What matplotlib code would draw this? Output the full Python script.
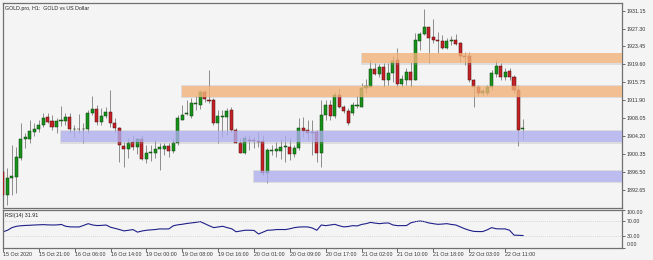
import matplotlib
matplotlib.use('Agg')
import matplotlib.pyplot as plt
from matplotlib.patches import Rectangle
import numpy as np

# Chart data ###################################################
# GOLD.pro H1 bars, oldest first
bar_open = [1896.5, 1891.5, 1895.2, 1895.4, 1899.4, 1903.6, 1903.5, 1905.0, 1905.6, 1906.6,
            1908.2, 1907.4, 1906.2, 1907.4, 1907.5, 1908.2, 1905.6, 1905.7, 1905.6, 1905.6,
            1909.2, 1909.9, 1907.3, 1908.4, 1909.3, 1906.9, 1905.85, 1902.0, 1901.3, 1902.9,
            1901.9, 1903.5, 1899.2, 1900.5, 1900.5, 1901.5, 1901.3, 1902.0, 1901.0, 1902.75,
            1907.7, 1908.95, 1908.5, 1911.1, 1910.9, 1913.7, 1912.0, 1911.9, 1906.9, 1908.2,
            1908.2, 1909.8, 1905.5, 1902.75, 1900.6, 1903.4, 1903.3, 1903.2, 1903.2, 1896.3,
            1901.0, 1900.9, 1901.0, 1901.8, 1901.8, 1900.35, 1901.55, 1906.0, 1905.5, 1905.0,
            1905.1, 1900.6, 1908.7, 1910.9, 1908.5, 1913.0, 1910.35, 1909.6, 1909.2, 1910.6,
            1910.5, 1914.45, 1914.8, 1918.55, 1917.55, 1918.95, 1916.25, 1917.7, 1920.65, 1915.4,
            1916.3, 1918.05, 1916.25, 1924.7, 1926.1, 1927.55, 1925.4, 1924.85, 1924.55, 1923.05,
            1924.55, 1924.8, 1924.15, 1921.4, 1921.3, 1916.25, 1914.7, 1913.5, 1913.5, 1914.7,
            1917.5, 1919.3, 1916.8, 1918.1, 1916.8, 1914.1, 1905.65]
bar_high = [1897.5, 1897.25, 1902.3, 1901.9, 1906.9, 1904.8, 1907.6, 1907.1, 1907.6, 1909.1,
            1909.1, 1908.7, 1908.0, 1910.6, 1909.2, 1909.2, 1906.6, 1908.9, 1907.1, 1909.8,
            1912.7, 1910.9, 1910.2, 1910.5, 1914.0, 1908.0, 1906.2, 1902.95, 1903.7, 1904.4,
            1903.7, 1904.4, 1902.3, 1902.3, 1903.3, 1902.6, 1902.6, 1902.6, 1903.7, 1908.7,
            1910.9, 1911.9, 1912.3, 1912.7, 1914.2, 1914.2, 1918.5, 1912.3, 1909.8, 1909.8,
            1910.15, 1910.5, 1905.85, 1903.7, 1904.4, 1904.4, 1903.9, 1905.1, 1904.4, 1901.55,
            1902.3, 1903.0, 1903.5, 1904.4, 1903.7, 1902.3, 1908.0, 1908.2, 1907.7, 1907.7,
            1905.5, 1911.9, 1911.9, 1911.9, 1913.7, 1914.45, 1910.9, 1910.2, 1911.6, 1912.7,
            1915.55, 1916.5, 1920.55, 1919.85, 1919.7, 1919.85, 1919.85, 1921.3, 1923.1, 1917.3,
            1918.8, 1920.2, 1926.3, 1926.6, 1931.45, 1927.7, 1929.3, 1926.5, 1925.9, 1925.2,
            1925.65, 1926.2, 1924.5, 1922.35, 1922.35, 1916.4, 1915.2, 1914.25, 1915.2, 1918.4,
            1920.55, 1919.85, 1918.8, 1918.8, 1917.3, 1915.2, 1907.8]
bar_low = [1890.5, 1889.4, 1891.5, 1891.9, 1899.0, 1901.6, 1902.6, 1904.2, 1905.1, 1906.2,
           1906.9, 1905.4, 1904.8, 1906.3, 1906.6, 1904.8, 1903.9, 1904.8, 1902.8, 1904.8,
           1908.7, 1906.6, 1906.6, 1908.0, 1906.2, 1905.1, 1898.7, 1897.5, 1899.4, 1901.2,
           1900.3, 1899.0, 1898.3, 1898.8, 1899.4, 1896.9, 1900.1, 1899.75, 1900.5, 1902.3,
           1907.7, 1908.7, 1908.0, 1909.8, 1910.0, 1911.5, 1911.2, 1906.6, 1902.75, 1904.05,
           1904.4, 1905.1, 1902.6, 1900.5, 1900.3, 1901.2, 1901.6, 1901.8, 1895.8, 1894.15,
           1900.1, 1899.75, 1899.2, 1898.7, 1899.0, 1899.75, 1901.2, 1904.0, 1903.35, 1900.1,
           1898.7, 1897.6, 1907.7, 1907.65, 1908.0, 1910.15, 1909.1, 1906.6, 1908.7, 1910.2,
           1910.5, 1913.5, 1914.8, 1917.3, 1916.95, 1914.8, 1915.2, 1915.9, 1914.8, 1914.8,
           1915.2, 1914.8, 1916.25, 1922.7, 1925.9, 1919.95, 1924.15, 1922.1, 1922.85, 1922.85,
           1923.75, 1923.75, 1920.2, 1919.5, 1915.9, 1910.5, 1912.7, 1913.0, 1913.0, 1914.1,
           1916.8, 1916.25, 1916.25, 1916.25, 1913.4, 1902.05, 1903.5]
bar_close = [1891.5, 1895.1, 1895.6, 1899.7, 1903.5, 1903.9, 1905.2, 1905.7, 1906.6, 1908.0,
             1907.2, 1906.2, 1907.4, 1907.6, 1908.2, 1905.6, 1905.7, 1905.6, 1905.8, 1909.1,
             1909.9, 1907.3, 1908.4, 1909.3, 1906.9, 1905.85, 1902.3, 1901.3, 1902.75, 1901.9,
             1903.5, 1899.2, 1900.5, 1900.85, 1901.35, 1901.9, 1902.0, 1901.0, 1902.65, 1908.0,
             1908.7, 1909.2, 1911.35, 1911.35, 1913.7, 1912.1, 1911.8, 1907.0, 1908.5, 1908.3,
             1909.65, 1905.5, 1902.75, 1900.6, 1903.7, 1903.2, 1903.2, 1903.0, 1896.3, 1901.2,
             1901.1, 1901.3, 1901.8, 1901.9, 1900.35, 1901.55, 1905.85, 1905.35, 1904.9, 1904.9,
             1900.6, 1908.7, 1910.9, 1908.5, 1913.0, 1910.5, 1909.6, 1907.05, 1910.9, 1910.7,
             1914.45, 1914.95, 1918.55, 1917.55, 1918.95, 1916.25, 1917.7, 1920.4, 1915.4, 1916.4,
             1918.05, 1916.25, 1924.85, 1926.1, 1927.55, 1925.2, 1924.85, 1924.55, 1923.05, 1924.55,
             1924.8, 1924.0, 1921.3, 1921.1, 1916.25, 1914.7, 1913.5, 1913.8, 1914.7, 1917.8,
             1919.3, 1916.8, 1917.9, 1916.8, 1914.1, 1905.5, 1905.9]
# RSI(14) of the same bars
rsi = [41.7, 46.0, 53.0, 56.5, 58.0, 58.8, 59.3, 60.0, 60.5, 61.0,
       60.3, 60.0, 60.2, 61.5, 56.5, 55.0, 54.8, 54.8, 59.0, 63.5,
       60.0, 58.5, 59.0, 60.0, 54.0, 51.0, 47.8, 44.3, 46.0, 47.8,
       41.0, 44.0, 46.0, 47.0, 48.0, 49.6, 49.4, 49.6, 58.0, 60.5,
       62.0, 64.0, 65.5, 67.0, 69.0, 63.6, 58.0, 53.0, 54.8, 56.6,
       53.0, 50.0, 42.0, 44.0, 46.0, 46.0, 45.5, 36.0, 41.0, 46.0,
       46.5, 47.8, 48.0, 47.8, 50.0, 53.0, 54.5, 55.0, 54.8, 52.0,
       46.0, 60.0, 58.3, 60.0, 61.8, 58.0, 55.0, 56.0, 58.3, 57.5,
       61.5, 63.6, 67.0, 65.0, 63.6, 65.0, 65.4, 60.0, 58.3, 58.3,
       58.5, 66.0, 69.0, 70.6, 69.0, 65.4, 63.5, 61.8, 62.5, 63.6,
       61.5, 60.0, 55.0, 50.0, 46.0, 43.0, 42.5, 42.5, 47.0, 53.0,
       50.0, 49.6, 49.6, 46.0, 33.0, 32.5, 31.91]
time_labels = ['15 Oct 2020', '15 Oct 21:00', '16 Oct 06:00', '16 Oct 14:00',
               '19 Oct 00:00', '19 Oct 08:00', '19 Oct 16:00', '20 Oct 01:00',
               '20 Oct 09:00', '20 Oct 17:00', '21 Oct 02:00', '21 Oct 10:00',
               '21 Oct 18:00', '22 Oct 03:00', '22 Oct 11:00']
price_ticks = [1931.15, 1927.30, 1923.45, 1919.60, 1915.75, 1911.90,
               1908.05, 1904.20, 1900.35, 1896.50, 1892.65]
rsi_ticks = [100, 70, 30, 0]
# Zones: first bar, lower and upper price
zone_start = [13, 56, 40, 80]
zone_low = [1902.9, 1894.4, 1912.65, 1919.85]
zone_high = [1905.3, 1896.75, 1914.95, 1922.0]
zone_color = ['#b0b0f7', '#b0b0f7', '#f9b474', '#f9b474']

# Figure #######################################################
plt.rcParams['font.family'] = ['Liberation Sans', 'DejaVu Sans']
plt.rcParams['font.size'] = 3.8
bg = '#f4f4f4'
frame = '#707070'

fig = plt.figure(figsize=(6.53, 2.6), dpi=100, facecolor=bg)
ax = fig.add_axes([3/653, 52/260, 619/653, 205/260], facecolor=bg)
ax_rsi = fig.add_axes([3/653, 12.5/260, 619/653, 37.5/260], facecolor=bg)

x = np.arange(len(bar_open))
o = np.array(bar_open)
h = np.array(bar_high)
l = np.array(bar_low)
c = np.array(bar_close)
up = c >= o

# Wicks
ax.vlines(x, l, h, color='#8c8c8c', lw=0.7, zorder=2)
# Bodies
body_lo = np.minimum(o, c)
body_h = np.maximum(np.abs(c - o), 0.2)
ax.bar(x[up], body_h[up], 0.68, bottom=body_lo[up], color='#17921a',
       edgecolor='#0b3d0b', lw=0.35, zorder=3)
ax.bar(x[~up], body_h[~up], 0.68, bottom=body_lo[~up], color='#c42227',
       edgecolor='#4a0c0c', lw=0.35, zorder=3)

x_max = 138.08
# Zones with a soft shadow, candles show through
for i in range(len(zone_start)):
    ax.add_patch(Rectangle((zone_start[i] - 0.15, zone_low[i] - 0.35),
                           x_max - zone_start[i] + 0.3,
                           zone_high[i] - zone_low[i] + 0.5,
                           color='#9a9a9a', alpha=0.25, lw=0, zorder=4))
    ax.add_patch(Rectangle((zone_start[i], zone_low[i]),
                           x_max - zone_start[i],
                           zone_high[i] - zone_low[i],
                           color=zone_color[i], alpha=0.72, lw=0, zorder=5))

ax.set_xlim(0.07, x_max)
ax.set_ylim(1888.72, 1932.8)
ax.set_xticks([])
ax.yaxis.tick_right()
ax.set_yticks(price_ticks)
ax.set_yticklabels(['%.2f' % p for p in price_ticks])
ax.tick_params(axis='y', length=2.5, width=0.5, pad=1, colors='#333333')
for s in ax.spines.values():
    s.set_color(frame)
    s.set_linewidth(0.9)
ax.text(0.004, 0.985, 'GOLD.pro, H1:  GOLD vs US Dollar', transform=ax.transAxes,
        ha='left', va='top', color='#222222')

# RSI panel ####################################################
ax_rsi.plot(x, rsi, color='#1f1f8a', lw=0.8)
ax_rsi.axhline(70, color='#bdbdbd', lw=0.5, ls=(0, (1, 2)))
ax_rsi.axhline(30, color='#bdbdbd', lw=0.5, ls=(0, (1, 2)))
ax_rsi.set_xlim(0.07, x_max)
ax_rsi.set_ylim(0, 100)
ax_rsi.yaxis.tick_right()
ax_rsi.set_yticks(rsi_ticks)
ax_rsi.set_yticklabels(['%.2f' % v for v in rsi_ticks])
ax_rsi.get_yticklabels()[0].set_va('top')
ax_rsi.get_yticklabels()[-1].set_va('bottom')
ax_rsi.tick_params(axis='y', length=2.5, width=0.5, pad=1, colors='#333333')
ax_rsi.set_xticks(np.arange(len(time_labels)) * 8)
ax_rsi.set_xticklabels(time_labels, ha='left')
ax_rsi.tick_params(axis='x', length=3, width=0.5, pad=0.5, colors='#333333')
for s in ax_rsi.spines.values():
    s.set_color(frame)
    s.set_linewidth(0.9)
ax_rsi.text(0.003, 0.93, 'RSI(14) 31.91', transform=ax_rsi.transAxes,
            ha='left', va='top', color='#222222')

fig.savefig('out.png', dpi=100, facecolor=bg)
